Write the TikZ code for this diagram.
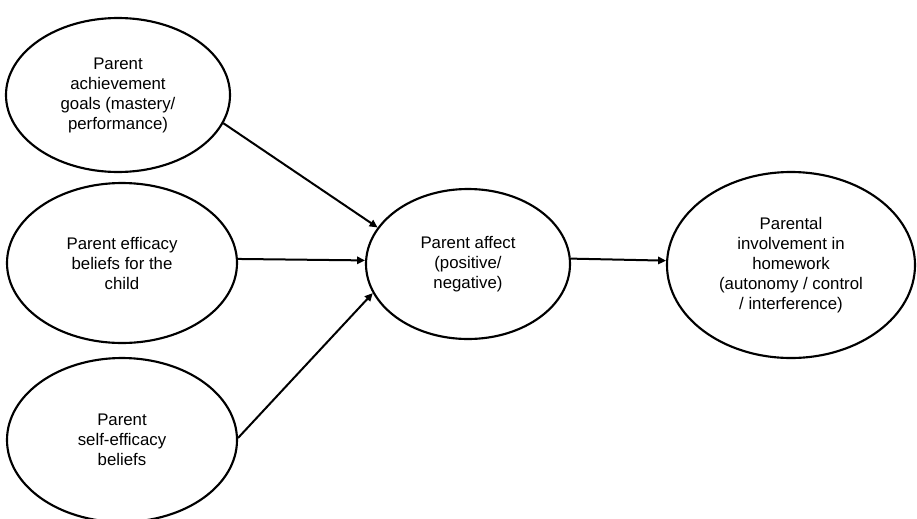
\documentclass[tikz,border=0pt]{standalone}
\usepackage{fontspec}
\setmainfont{Liberation Sans}
\usetikzlibrary{shapes.geometric,arrows.meta}
\begin{document}
\begin{tikzpicture}[x=0.75pt,y=-0.75pt,
  bubble/.style={draw, line width=1.6pt, ellipse, inner sep=0pt, align=center,
    font=\fontsize{12.6}{15}\selectfont},
  link/.style={line width=1.5pt, -{Triangle[length=6pt,width=5.5pt]}}]
\clip (0,0) rectangle (917,518);
\useasboundingbox (0,0) rectangle (917,518);
\node[bubble, minimum width=168pt, minimum height=115.5pt] (a) at (118,95)
  {Parent\\achievement\\goals (mastery/\\performance)};
\node[bubble, minimum width=172.5pt, minimum height=120pt] (b) at (122,263)
  {Parent efficacy\\beliefs for the\\child};
\node[bubble, minimum width=172.5pt, minimum height=123pt] (c) at (122,440)
  {Parent\\self-efficacy\\beliefs};
\node[bubble, minimum width=153pt, minimum height=112.5pt] (m) at (468,264)
  {Parent affect\\(positive/\\negative)};
\node[bubble, minimum width=186pt, minimum height=139.5pt] (r) at (791,265)
  {Parental\\involvement in\\homework\\(autonomy / control\\/ interference)};
\draw[link] (a.-15) -- (m.158);
\draw[link] (b.2) -- (m.178);
\draw[link] (c.1) -- (m.197);
\draw[link] (m.3) -- (r.178);
\end{tikzpicture}
\end{document}
